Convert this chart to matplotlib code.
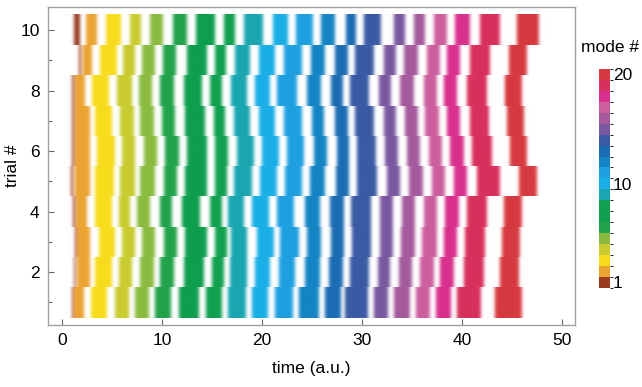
import numpy as np
import matplotlib.pyplot as plt
from matplotlib.colors import ListedColormap, BoundaryNorm, to_rgb
from matplotlib.cm import ScalarMappable

plt.rcParams['font.family'] = ['Liberation Sans', 'DejaVu Sans']

trials = list(range(1, 11))
modes = list(range(1, 21))
mode_colors = ['#9a3a1e', '#eba332', '#f7dc1e', '#c9cb2f', '#8abb3f',
               '#22a24a', '#0e9e4e', '#10a050', '#1aa6b0', '#1aaee6',
               '#1ea0e0', '#1484c4', '#1c6cb4', '#3a5aa4', '#7a58a0',
               '#a45a9c', '#cc5e9e', '#d8308c', '#d8305c', '#d63a40']

# onset / offset of each mode (1..20), one row per trial (trial 1 first)
band_start = [
    [1.0, 1.2, 2.9, 5.3, 7.3, 9.3, 11.7, 14.4, 16.6, 19.0, 21.3, 23.7, 26.3, 28.3, 31.2, 33.2, 35.4, 37.4, 39.5, 43.3],
    [1.2, 1.5, 3.3, 5.7, 7.8, 9.8, 12.2, 15.0, 16.8, 19.3, 21.7, 24.3, 26.7, 28.8, 31.6, 33.7, 35.8, 37.8, 40.2, 43.8],
    [1.3, 1.5, 3.7, 6.0, 8.0, 10.2, 12.3, 15.3, 16.9, 19.5, 21.8, 24.5, 26.9, 29.0, 31.8, 33.9, 36.0, 38.2, 40.3, 44.0],
    [1.1, 1.4, 3.3, 5.7, 7.5, 9.8, 12.0, 14.8, 16.6, 19.0, 21.5, 24.3, 26.8, 28.9, 31.8, 34.0, 36.2, 38.3, 40.5, 44.2],
    [0.9, 1.3, 3.3, 5.8, 7.8, 10.2, 12.3, 15.3, 17.2, 19.8, 22.3, 24.8, 27.4, 29.5, 32.5, 34.7, 37.0, 39.2, 41.5, 45.7],
    [1.0, 1.3, 3.5, 6.0, 8.2, 10.3, 12.5, 15.3, 17.5, 20.0, 22.5, 25.2, 27.5, 29.5, 32.3, 34.5, 36.7, 38.8, 41.0, 44.8],
    [1.0, 1.3, 3.3, 5.8, 7.8, 10.0, 12.3, 15.2, 17.2, 19.7, 22.2, 25.0, 27.3, 29.3, 32.2, 34.3, 36.3, 38.5, 40.8, 44.5],
    [1.0, 1.3, 3.0, 5.5, 7.7, 9.8, 12.2, 14.8, 16.9, 19.3, 21.5, 24.5, 26.9, 28.8, 31.7, 33.8, 36.2, 38.2, 40.5, 44.3],
    [1.7, 2.1, 3.8, 6.1, 8.0, 10.1, 12.5, 15.3, 17.3, 19.7, 22.2, 24.9, 27.3, 29.3, 32.2, 34.2, 36.5, 38.5, 40.8, 44.7],
    [1.2, 2.4, 4.4, 6.8, 8.8, 11.1, 13.4, 16.2, 18.2, 21.1, 23.4, 25.9, 28.4, 30.2, 33.2, 35.2, 37.2, 39.3, 41.8, 45.5],
]
band_end = [
    [1.15, 2.2, 4.5, 6.7, 8.7, 10.9, 13.7, 16.0, 18.4, 20.6, 23.1, 25.7, 27.9, 30.6, 32.6, 34.8, 36.8, 38.9, 41.9, 46.0],
    [1.35, 2.8, 5.0, 7.0, 9.2, 11.2, 14.2, 16.2, 18.5, 20.8, 23.3, 25.8, 28.1, 30.7, 32.8, 35.0, 37.2, 39.2, 42.2, 45.7],
    [1.45, 2.8, 5.3, 7.3, 9.3, 11.5, 14.5, 16.5, 18.5, 21.2, 23.7, 25.9, 28.2, 30.9, 33.1, 35.3, 37.5, 39.5, 42.3, 45.8],
    [1.3, 2.5, 5.0, 6.8, 8.8, 11.0, 13.8, 16.0, 18.2, 20.7, 23.2, 25.8, 28.2, 30.9, 33.1, 35.3, 37.5, 39.7, 42.5, 46.0],
    [1.1, 2.8, 5.2, 7.3, 9.3, 11.5, 14.5, 16.5, 19.0, 21.5, 24.0, 26.3, 28.7, 31.5, 33.8, 36.1, 38.3, 40.5, 43.8, 47.5],
    [1.2, 2.8, 5.3, 7.3, 9.5, 11.7, 14.5, 16.6, 19.2, 21.7, 24.2, 26.5, 28.7, 31.4, 33.6, 35.8, 38.0, 40.2, 43.0, 46.5],
    [1.2, 2.8, 5.0, 7.2, 9.2, 11.3, 14.3, 16.3, 18.8, 21.3, 24.0, 26.2, 28.6, 31.2, 33.4, 35.6, 37.7, 39.8, 42.7, 46.2],
    [1.2, 2.3, 4.7, 7.0, 9.0, 11.2, 14.0, 16.0, 18.5, 20.8, 23.5, 25.9, 28.1, 30.7, 32.9, 35.2, 37.5, 39.5, 42.5, 46.0],
    [1.9, 3.0, 5.5, 7.3, 9.3, 11.4, 14.5, 16.4, 18.8, 21.3, 24.0, 26.3, 28.6, 31.2, 33.4, 35.6, 37.8, 39.8, 42.8, 46.5],
    [1.8, 3.5, 5.9, 7.9, 10.1, 12.5, 15.3, 17.3, 20.1, 22.6, 25.1, 27.3, 29.4, 31.9, 34.3, 36.3, 38.5, 40.8, 43.8, 47.7],
]

x_lo, x_hi = -1.4, 51.3
t = np.linspace(x_lo, x_hi, 4000)
dt = t[1] - t[0]
sigma = 0.16
kx = np.arange(-4 * sigma, 4 * sigma + dt, dt)
kern = np.exp(-0.5 * (kx / sigma) ** 2)
kern /= kern.sum()
rgb = np.array([to_rgb(c) for c in mode_colors])

fig = plt.figure(figsize=(6.42, 3.87), dpi=100)
ax = fig.add_axes([0.0748, 0.160, 0.8208, 0.821])

for trial, s_row, e_row in zip(trials, band_start, band_end):
    img = np.ones((t.size, 3))
    for m, s, e in zip(modes, s_row, e_row):
        img[(t >= s) & (t <= e)] = rgb[m - 1]
    pad = kern.size
    for ch in range(3):
        p = np.pad(img[:, ch], pad, mode='edge')
        img[:, ch] = np.convolve(p, kern, mode='same')[pad:-pad]
    ax.imshow(img[None, :, :], extent=[x_lo, x_hi, trial - 0.5, trial + 0.5],
              aspect='auto', interpolation='bilinear')

ax.set_xlim(x_lo, x_hi)
ax.set_ylim(0.25, 10.75)
ax.set_xticks([0, 10, 20, 30, 40, 50])
ax.set_yticks([2, 4, 6, 8, 10])
ax.set_yticks([1, 3, 5, 7, 9], minor=True)
ax.tick_params(direction='in', length=4, width=0.8, color='#666666', labelsize=12.5, pad=6)
ax.tick_params(which='minor', direction='in', length=3, width=0.8, color='#666666')
for sp in ax.spines.values():
    sp.set_color('#a0a0a0')
    sp.set_linewidth(1)
ax.set_xlabel('time (a.u.)', fontsize=12.5, labelpad=9)
ax.set_ylabel('trial #', fontsize=12.5, labelpad=0)

cax = fig.add_axes([0.933, 0.256, 0.017, 0.566])
sm = ScalarMappable(norm=BoundaryNorm(np.arange(0.5, 21.5), 20), cmap=ListedColormap(mode_colors))
cb = fig.colorbar(sm, cax=cax, ticks=[1, 10, 20])
cb.outline.set_visible(False)
cax.tick_params(length=0, labelsize=12.5, pad=2)
fig.text(0.950, 0.876, 'mode #', ha='center', va='center', fontsize=12.5)

fig.savefig('out.png', dpi=100)
